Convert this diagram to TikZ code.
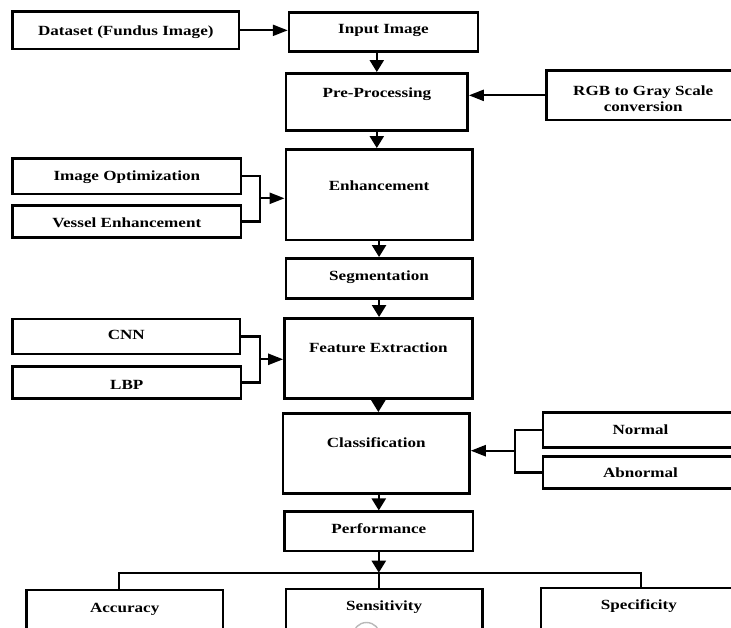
\documentclass[tikz,border=0pt]{standalone}
\usepackage{fontspec}
\setmainfont{Liberation Serif}[FakeStretch=1.22]
\usetikzlibrary{arrows.meta}

\tikzset{
  box/.style={draw=black, line width=2.5pt, fill=white, inner sep=0pt},
  lbl/.style={font=\fontsize{14}{16}\selectfont\bfseries, inner sep=0pt, text=black},
  link/.style={draw=black, line width=2.3pt},
  vtip/.style={link, -{Triangle[length=12pt,width=14pt]}},
  htip/.style={link, -{Triangle[length=15pt,width=11pt]}},
}

% \flowbox{name}{left}{top}{right}{bottom}{text centre y}{text}
\newcommand\flowbox[7]{%
  \node[box, minimum width={#4-#2}, minimum height={#5-#3}] (#1) at ({(#2+#4)/2},{(#3+#5)/2}) {};
  \node[lbl, anchor=base] (#1-t) at ({(#2+#4)/2},{#6+4.6}) {#7};
}

\begin{document}
\begin{tikzpicture}[x=1pt,y=-1pt]
\useasboundingbox (0,0) rectangle (731,628);
\clip (0,0) rectangle (731,628);
\fill[white] (0,0) rectangle (731,628);

% main column
\flowbox{data}{12.6}{11.7}{239}{49}{30.7}{Dataset (Fundus Image)}
\flowbox{input}{289}{12.3}{478}{51.7}{29}{Input Image}
\flowbox{pre}{286}{73.3}{467.6}{130.7}{93}{Pre-Processing}
\node[box, minimum width=193.6, minimum height=49.3] (rgb) at (643.2,95.35) {};
\node[lbl, align=center] (rgb-t) at (643.2,98.7) {RGB to Gray Scale\\conversion};
\flowbox{imgopt}{12.6}{158.3}{241}{194}{175.5}{Image Optimization}
\flowbox{vessel}{12.6}{205.3}{241}{237.7}{222.5}{Vessel Enhancement}
\flowbox{enh}{285.8}{149.3}{472.3}{240}{185.7}{Enhancement}
\flowbox{seg}{285.8}{258.3}{472.3}{298.3}{275.7}{Segmentation}
\flowbox{cnn}{12.6}{319}{240}{354}{335}{CNN}
\flowbox{lbp}{12.6}{366.7}{241}{398.3}{385}{LBP}
\flowbox{feat}{284.4}{318.3}{472.3}{398.3}{348.3}{Feature Extraction}
\flowbox{cls}{283}{413.3}{469.5}{493.3}{443.3}{Classification}
\flowbox{normal}{543}{412.5}{738}{447.7}{430}{Normal}
\flowbox{abnormal}{543}{456.7}{738}{488.3}{473.3}{Abnormal}
\flowbox{perf}{284.4}{511.7}{473.2}{551}{529}{Performance}
\flowbox{acc}{26.6}{590}{222.8}{660}{608.3}{Accuracy}
\flowbox{sens}{285.8}{589}{482.5}{660}{605.7}{Sensitivity}
\flowbox{spec}{540.8}{588}{737}{660}{605}{Specificity}

% connectors
\draw[htip] (data.east) -- (data.east -| input.west);
\draw[vtip] (input.south -| pre.north) -- (pre.north);
\draw[vtip] (pre.south) -- (pre.south |- enh.north);
\draw[htip] (rgb.west) -- (rgb.west -| pre.east);

\draw[link] (imgopt.east) -- ++(18,0) |- (vessel.east);
\coordinate (j1) at (259,198.3);
\draw[htip] (j1) -- (j1 -| enh.west);

\draw[vtip] (enh.south) -- (enh.south |- seg.north);
\draw[vtip] (seg.south) -- (seg.south |- feat.north);

\draw[link] (cnn.east) -- ++(19,0) |- (lbp.east);
\coordinate (j2) at (260,359.3);
\draw[htip] (j2) -- (j2 -| feat.west);

\draw[vtip] (feat.south) -- (feat.south |- cls.north);

\draw[link] (normal.west) -- ++(-27,0) |- (abnormal.west);
\coordinate (j3) at (515,450.7);
\draw[htip] (j3) -- (j3 -| cls.east);

\draw[vtip] (cls.south -| perf.north) -- (perf.north);

\coordinate (busL) at (119,572.7);
\coordinate (busR) at (641,572.7);
\draw[vtip] (perf.south) -- (perf.south |- busL);
\draw[link] (acc.north -| busL) -- (busL) -- (busR) -- (spec.north -| busR);
\draw[link] (perf.south |- busL) -- (perf.south |- sens.north);

% faint grey ring below the Sensitivity label
\draw[gray!55, line width=1.4pt] (366.5,636) circle (13.5);
\end{tikzpicture}
\end{document}
